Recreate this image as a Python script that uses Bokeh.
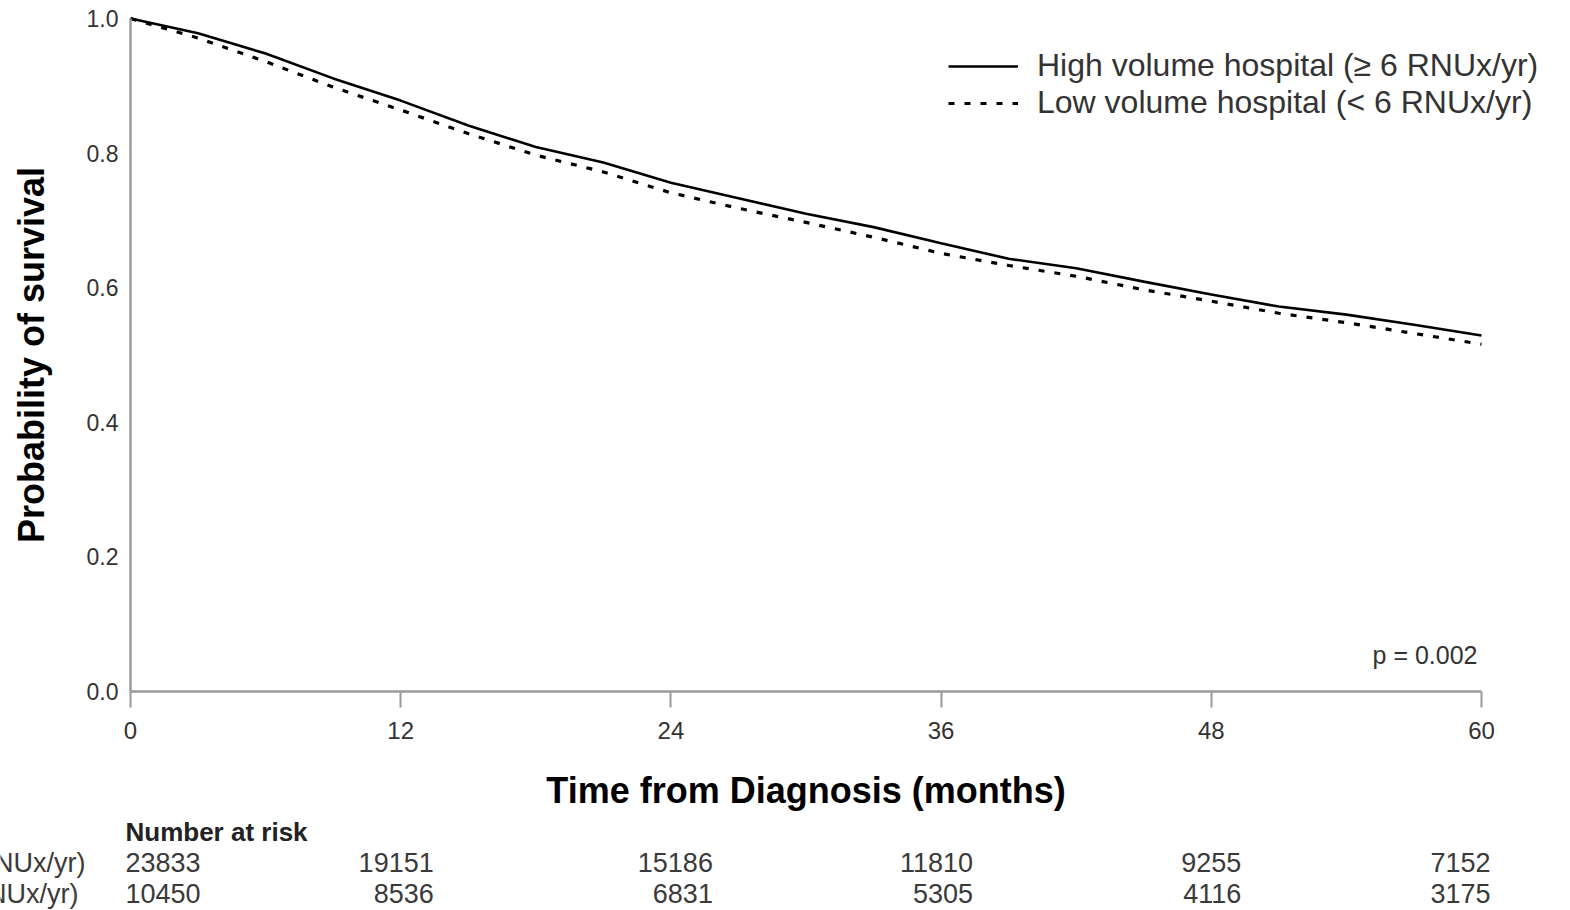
from bokeh.plotting import figure
from bokeh.models import (Range1d, FixedTicker, Legend, LegendItem, Label,
                          ColumnDataSource, NumeralTickFormatter)
from bokeh.embed import file_html
from bokeh.resources import INLINE
from bokeh.core.properties import value

# ---------------- data ----------------
months = [0, 3, 6, 9, 12, 15, 18, 21, 24, 27, 30, 33, 36, 39, 42, 45, 48, 51, 54, 57, 60]
high_volume = [1.000, 0.978, 0.948, 0.911, 0.878, 0.841, 0.809, 0.786, 0.756, 0.733, 0.710,
               0.690, 0.666, 0.643, 0.629, 0.609, 0.590, 0.572, 0.560, 0.545, 0.529]
low_volume = [1.000, 0.971, 0.936, 0.898, 0.864, 0.829, 0.797, 0.772, 0.741, 0.718, 0.697,
              0.675, 0.651, 0.633, 0.617, 0.597, 0.580, 0.562, 0.548, 0.532, 0.516]
series_names = ["High volume hospital (\u2265 6 RNUx/yr)", "Low volume hospital (< 6 RNUx/yr)"]
risk_times = [0, 12, 24, 36, 48, 60]
risk_high = [23833, 19151, 15186, 11810, 9255, 7152]
risk_low = [10450, 8536, 6831, 5305, 4116, 3175]
x_ticks = [0, 12, 24, 36, 48, 60]
y_ticks = [0.0, 0.2, 0.4, 0.6, 0.8, 1.0]
p_value_text = "p = 0.002"
x_title = "Time from Diagnosis (months)"
y_title = "Probability of survival"
risk_header = "Number at risk"

# ---------------- layout (pixel geometry of the page) ----------------
FONT = "Liberation Sans"
W, H = 1568, 910
X0_PX, X60_PX = 130, 1481        # where month 0 / month 60 fall
Y1_PX, Y0_PX = 18, 691           # where survival 1.0 / 0.0 fall
PX_PER_MONTH = (X60_PX - X0_PX) / 60.0
PX_PER_UNIT = float(Y0_PX - Y1_PX)


def xdata(px):
    return (px - X0_PX) / PX_PER_MONTH


def ydata(py):
    return 1 - (py - Y1_PX) / PX_PER_UNIT


# the frame covers the whole canvas; axes sit at fixed data locations
p = figure(width=W, height=H, x_range=Range1d(xdata(0), xdata(W)),
           y_range=Range1d(ydata(H), ydata(0)),
           output_backend="svg", toolbar_location=None,
           min_border_left=0, min_border_right=0, min_border_top=0, min_border_bottom=0)
p.outline_line_color = None
p.grid.visible = False

r_high = p.line(months, high_volume, line_color="black", line_width=2.6)
r_low = p.line(months, low_volume, line_color="black", line_width=3.2, line_dash="6 10")

AX_COL = "#9a9a9a"
xa = p.xaxis[0]
xa.fixed_location = 0
xa.bounds = (0, 60)
xa.ticker = FixedTicker(ticks=x_ticks)
xa.axis_line_color = AX_COL
xa.axis_line_width = 2.5
xa.major_tick_line_color = AX_COL
xa.major_tick_line_width = 2
xa.major_tick_out = 16
xa.major_tick_in = 0
xa.minor_tick_line_color = None
xa.major_label_text_font = FONT
xa.major_label_text_font_size = "24px"
xa.major_label_text_color = "#333333"
xa.major_label_standoff = 14
xa.axis_label = x_title
xa.axis_label_text_font = FONT
xa.axis_label_text_font_size = "36px"
xa.axis_label_text_font_style = "bold"
xa.axis_label_text_color = "black"
xa.axis_label_standoff = 28

ya = p.yaxis[0]
ya.fixed_location = 0
ya.bounds = (0, 1)
ya.ticker = FixedTicker(ticks=y_ticks)
ya.formatter = NumeralTickFormatter(format="0.0")
ya.axis_line_color = AX_COL
ya.axis_line_width = 2.5
ya.major_tick_line_color = None
ya.major_tick_out = 0
ya.major_tick_in = 0
ya.minor_tick_line_color = None
ya.major_label_text_font = FONT
ya.major_label_text_font_size = "23px"
ya.major_label_text_color = "#333333"
ya.major_label_standoff = 12
ya.axis_label = y_title
ya.axis_label_text_font = FONT
ya.axis_label_text_font_size = "36px"
ya.axis_label_text_font_style = "bold"
ya.axis_label_text_color = "black"
ya.axis_label_standoff = 32

legend = Legend(items=[LegendItem(label=series_names[0], renderers=[r_high]),
                       LegendItem(label=series_names[1], renderers=[r_low])],
                location=(948, H - 121), orientation="vertical",
                label_text_font=FONT, label_text_font_size="32px",
                label_text_color="#333333", glyph_width=70, glyph_height=36,
                label_height=36, spacing=0, padding=0, margin=0,
                label_standoff=19, border_line_alpha=0, background_fill_alpha=0)
p.add_layout(legend)

p.add_layout(Label(x=60, y=ydata(654), x_offset=-4, text=p_value_text,
                   text_align="right", text_baseline="middle", text_font=FONT,
                   text_font_size="25px", text_color="#333333"))

# ---------------- number at risk table ----------------
row_high_y = ydata(862)
row_low_y = ydata(893)
header_y = ydata(831)
col_offsets = [-5, 33, 42, 32, 30, 9]
col_align = ["left", "right", "right", "right", "right", "right"]

xs, ys, txt, offs, aligns = [], [], [], [], []
for row_y, counts in ((row_high_y, risk_high), (row_low_y, risk_low)):
    for t, n, o, a in zip(risk_times, counts, col_offsets, col_align):
        xs.append(t); ys.append(row_y); txt.append(str(n)); offs.append(o); aligns.append(a)
src = ColumnDataSource(dict(x=xs, y=ys, text=txt, xo=offs, align=aligns))
p.text(x="x", y="y", text="text", x_offset="xo", text_align="align", source=src,
       text_baseline="middle", text_font=value(FONT), text_font_size="27px",
       text_color="#3a3a3a")

p.text(x=[0], y=[header_y], text=[risk_header], x_offset=-5, text_align="left",
       text_baseline="middle", text_font=value(FONT), text_font_size="26px",
       text_font_style="bold", text_color="#222222")

# group labels, cut at the left edge as in the source image
lab_src = ColumnDataSource(dict(x=[0, 0], y=[row_high_y, row_low_y], text=series_names,
                                xo=[-45, -52]))
p.text(x="x", y="y", text="text", x_offset="xo", source=lab_src, text_align="right",
       text_baseline="middle", text_font=value(FONT), text_font_size="27px",
       text_color="#3a3a3a")

open("out.html", "w").write(file_html(p, INLINE))
